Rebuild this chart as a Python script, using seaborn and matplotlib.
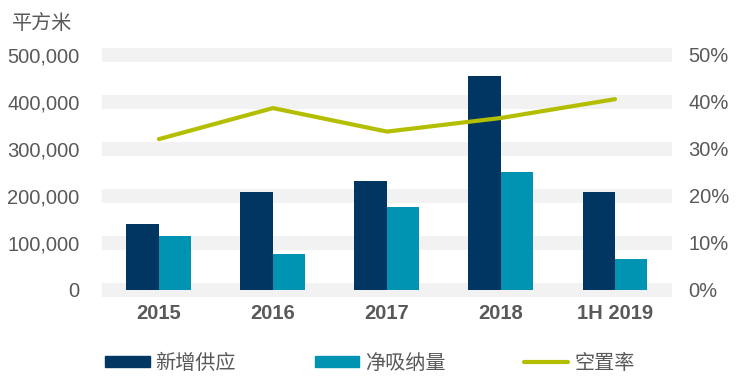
import numpy as np
import pandas as pd
import matplotlib
matplotlib.use("Agg")
import matplotlib.pyplot as plt
import seaborn as sns
from matplotlib.patches import Patch
from matplotlib.lines import Line2D

# data
periods = ["2015", "2016", "2017", "2018", "1H 2019"]
new_supply = [141000, 208000, 232000, 455000, 209000]
net_absorption = [115000, 76000, 176000, 252000, 66000]
vacancy = [32.1, 38.7, 33.7, 36.6, 40.6]
series_names = ["新增供应", "净吸纳量", "空置率"]
left_ticks = [0, 100000, 200000, 300000, 400000, 500000]
right_ticks = [0, 10, 20, 30, 40, 50]

navy = "#003661"
teal = "#0094B3"
green = "#B4BE00"
grey = "#595959"

sns.set_style("white")
plt.rcParams["font.family"] = ["Liberation Sans", "Noto Sans CJK SC"]

df = pd.DataFrame({
    "period": periods * 2,
    "value": new_supply + net_absorption,
    "series": [series_names[0]] * 5 + [series_names[1]] * 5,
})

fig = plt.figure(figsize=(7.4, 3.85), dpi=100)
ax = fig.add_axes([0.1378, 0.2273, 0.7703, 0.6494])

sns.barplot(data=df, x="period", y="value", hue="series", order=periods,
            palette=[navy, teal], saturation=1, width=0.57, gap=0, ax=ax,
            legend=False, linewidth=0, zorder=2)

ax.set_ylim(-16000, 516000)
ax.set_xlim(-0.5, 4.5)
ax.set_yticks(left_ticks)
ax.set_yticklabels([f"{v:,}" for v in left_ticks])
ax.grid(axis="y", color="#F2F2F2", linewidth=10, zorder=0)
ax.grid(axis="x", visible=False)
ax.set_axisbelow(True)
ax.set_xlabel("")
ax.set_ylabel("")
ax.tick_params(axis="y", length=0, pad=16, labelsize=14.5, labelcolor=grey)
ax.tick_params(axis="x", length=0, pad=5, labelsize=14.5, labelcolor=grey)
for lab in ax.get_xticklabels():
    lab.set_fontweight("bold")
for s in ax.spines.values():
    s.set_visible(False)

ax2 = ax.twinx()
sns.lineplot(x=np.arange(len(periods)), y=vacancy, ax=ax2, color=green,
             linewidth=3, zorder=3)
ax2.set_ylim(-1.6, 51.6)
ax2.set_yticks(right_ticks)
ax2.set_yticklabels([f"{v}%" for v in right_ticks])
ax2.tick_params(axis="y", length=0, pad=12, labelsize=14.5, labelcolor=grey)
ax2.grid(False)
for s in ax2.spines.values():
    s.set_visible(False)

fig.text(0.016, 0.94, "平方米", fontsize=14.5, color=grey, va="center")

handles = [Patch(color=navy), Patch(color=teal), Line2D([], [], color=green, linewidth=3)]
fig.legend(handles, series_names, loc="center", bbox_to_anchor=(0.5, 0.057),
           ncol=3, frameon=False, fontsize=14.5, labelcolor=grey,
           handlelength=2.2, handleheight=0.5, handletextpad=0.3,
           columnspacing=3.9)

fig.savefig("out.png", dpi=100)
